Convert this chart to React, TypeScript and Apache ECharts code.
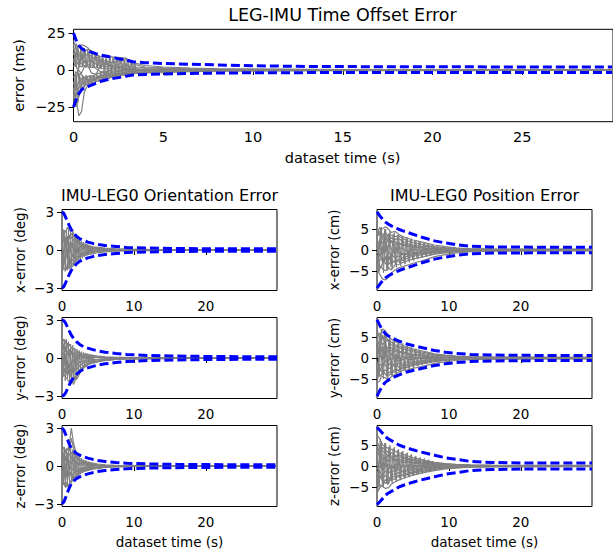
import React, { useEffect, useRef } from "react";
import * as echarts from "echarts";

// ---------- time grids ----------
const T_MS = [0, 0.15, 0.3, 0.45, 0.6, 0.8, 1.0, 1.25, 1.5, 1.8, 2.1, 2.5, 2.9, 3.3, 4, 5, 6.5, 8, 10, 13, 17, 22, 26, 30];
const T_DEG = [0, 0.25, 0.5, 0.75, 1, 1.3, 1.6, 2, 2.5, 3, 3.6, 4.3, 5, 6, 7.5, 9, 12, 16, 21, 26, 29.9];
const T_CM = [0, 0.4, 0.8, 1.2, 1.6, 2, 2.5, 3, 3.6, 4.3, 5, 6, 7, 8, 9.5, 11, 13, 16, 20, 25, 29.9];
// denser early grids for the noisy (jagged) runs
const T_MS_Z = [0, 0.1, 0.2, 0.3, 0.4, 0.5, 0.6, 0.7, 0.8, 0.9, 1.0, 1.1, 1.2, 1.3, 1.4, 1.5, 1.6, 1.7, 1.8, 1.9, 2.0, 2.1, 2.2, 2.3, 2.4, 2.5, 2.6, 2.7, 2.8, 2.9, 3.0, 3.1, 3.2, 3.3, 3.4, 3.5];
const T_MS_Z2 = [0.05, 0.15, 0.25, 0.35, 0.45, 0.55, 0.65, 0.75, 0.85, 0.95, 1.05, 1.15, 1.25, 1.35, 1.45, 1.55, 1.65, 1.75, 1.85, 1.95, 2.05, 2.15, 2.25, 2.35, 2.45, 2.55, 2.65, 2.75, 2.85, 2.95, 3.05, 3.15, 3.25, 3.35, 3.45];
const T_DEG_Z = [0, 0.15, 0.3, 0.45, 0.6, 0.75, 0.9, 1.05, 1.2, 1.35, 1.5, 1.65, 1.8, 1.95, 2.1, 2.25, 2.4, 2.55, 2.7, 2.85, 3.0, 3.15, 3.3, 3.45, 3.6, 3.75, 3.9, 4.05, 4.2, 4.35, 4.5];
const T_CM_Z = [0, 0.3, 0.6, 0.9, 1.2, 1.5, 1.8, 2.1, 2.4, 2.7, 3.0, 3.3, 3.6, 3.9, 4.2, 4.5, 4.8, 5.1, 5.4, 5.7, 6.0, 6.3, 6.6, 6.9, 7.2, 7.5, 7.8, 8.1, 8.4, 8.7, 9.0];
const T_CM_Z2 = [0.15, 0.45, 0.75, 1.05, 1.35, 1.65, 1.95, 2.25, 2.55, 2.85, 3.15, 3.45, 3.75, 4.05, 4.35, 4.65, 4.95, 5.25, 5.55, 5.85, 6.15, 6.45, 6.75, 7.05, 7.35, 7.65, 7.95, 8.25, 8.55, 8.85, 9.15];

// ---------- tick labels ----------
const X_TICKS_TOP = [0, 5, 10, 15, 20, 25];
const X_TICKS_SUB = [0, 10, 20];
const Y_TICKS_MS = [-25, 0, 25];
const Y_TICKS_DEG = [-3, 0, 3];
const Y_TICKS_CM = [-5, 0, 5];

// ---------- titles / labels ----------
const TITLE_TOP = "LEG-IMU Time Offset Error";
const TITLE_ORI = "IMU-LEG0 Orientation Error";
const TITLE_POS = "IMU-LEG0 Position Error";
const XLABEL = "dataset time (s)";
const YLABEL_MS = "error (ms)";
const YLABELS_DEG = ["x-error (deg)", "y-error (deg)", "z-error (deg)"];
const YLABELS_CM = ["x-error (cm)", "y-error (cm)", "z-error (cm)"];

// ---------- time offset (ms) ----------
const MS_UPPER = [25, 20, 16.5, 14.5, 13.3, 12.6, 12, 11, 10.1, 9.4, 8.6, 7.6, 6.9, 5.6, 4.9, 4.4, 3.9, 3.4, 2.8, 2.4, 2.2, 2.1, 2, 2];
const MS_LOWER = [-25, -20, -16, -13.5, -12, -11.2, -10.3, -9, -7.8, -6.8, -6, -5.2, -4.3, -3.4, -3, -2.7, -2.4, -2.1, -1.9, -1.8, -1.8, -1.7, -1.7, -1.7];
const MS_RUNS = [
  [5, 12, 16, 17, 16.5, 15, 12, 10, 9, 8.5, 8.8, 8.5, 8, 5, 3, 2, 1.2, 0.8, 0.5, 0.4, 0.3, 0.3, 0.2, 0.2],
  [-8, -20, -31, -28, -15, -10, -8, -6, -5, -4, -4.5, -3, -2.5, -2, -1.5, -1.2, -0.8, -0.6, -0.5, -0.4, -0.3, -0.2, -0.2, -0.2],
  [15, 10, 6, 4, 5, 6, 5.5, 4, 3, 2, 2.5, 1.5, 1, 0.8, 0.5, 0.8, 0.5, 0.3, 0.2, 0.1, 0.1, 0.1, 0.05, 0.05],
  [-15, -12, -8, -6, -5, -4.5, -4, -5, -4, -3, -2, -2.5, -1.5, -1, -0.8, -0.5, -0.3, -0.3, -0.2, -0.2, -0.1, -0.1, -0.1, -0.1],
  [20, 14, 10, 8, 9, 11, 9, 7, 6, 4, 3, 2, 3, 2, 1.5, 1, 0.6, 0.5, 0.4, 0.3, 0.2, 0.2, 0.2, 0.2],
  [-22, -16, -12, -10, -9, -8, -7, -6, -5, -6, -5, -4, -3, -2, -1.5, -1, -0.8, -0.6, -0.4, -0.3, -0.3, -0.2, -0.2, -0.2],
  [2, 6, 3, 2, 3, 2, 1.5, 2, 1, 0.5, 1, 0.5, 0.2, 0.5, 0.3, 0.1, 0, 0.1, 0, 0, 0, 0, 0, 0],
  [-5, -2, 0, -3, -6, -7, -5, -3, -2, -1, -0.5, -1, -0.5, -0.2, 0, -0.2, 0, 0, 0, 0, 0, 0, 0, 0],
  [10, 18, 12, 9, 12, 14, 13, 9, 7, 6, 5, 6, 7, 4, 2, 1.5, 1, 0.6, 0.4, 0.3, 0.3, 0.3, 0.3, 0.3],
  [-12, -25, -18, -12, -11, -9, -9, -8, -6.5, -5, -3.5, -3, -3, -2.5, -2, -1.8, -1.2, -0.8, -0.6, -0.5, -0.4, -0.4, -0.3, -0.3],
  [8, 3, -4, -2, 2, 4, 3, 1, -1, -2, 0.5, 2, 1.5, 1, -0.5, 0.3, 0.2, -0.1, 0.1, 0, 0, 0, 0, 0],
  [-18, -8, 4, 8, 6, 3, -2, -3, 3, 5, 2, -1, 0, -1, 0.8, -0.5, 0.3, 0.2, -0.2, 0.1, 0, 0, 0, 0],
];
const MS_NOISY_POS = [18, 2, 16, 1, 14, 2, 15, 1.5, 14, 2, 12, 1.5, 11, 2, 10, 1, 9, 0, 8.5, 0, 8, 0, 8.5, 0, 8, 0, 8.5, 0, 8, 0, 7, 0, 5.5, 0, 4.5, 0];
const MS_NOISY_NEG = [-20, -1, -18, -2, -14, -3.5, -12, -3.5, -11, -3.5, -10, -3.5, -9, -3.5, -8, -2, -7, 0, -6.5, 0, -6, 0, -5.5, 0, -5, 0, -4.5, 0, -4, 0, -3.5, 0, -3, 0, -2.5, 0];
const MS_NOISY_POS2 = [14, 3, 12, 2.5, 16, 3, 13, 2.5, 12, 2, 11, 2, 10, 1.5, 9, 1, 8, 0.5, 7.5, 0.5, 8, 0.5, 7, 0.5, 7.5, 0.5, 7, 0.5, 6.5, 0.5, 5, 0.5, 4, 0.5, 3.5];
const MS_NOISY_NEG2 = [-16, -3, -22, -4, -12, -4, -10, -4, -9.5, -4, -9, -4, -8, -3.5, -7, -1.5, -6, -0.5, -5.5, -0.5, -5, -0.5, -4.8, -0.5, -4.5, -0.5, -4, -0.5, -3.8, -0.5, -3.2, -0.5, -2.8, -0.5, -2.2];

// ---------- orientation (deg) ----------
const XDEG_BOUND = [3, 2.9, 2.6, 2.25, 1.95, 1.6, 1.35, 1.1, 0.88, 0.75, 0.62, 0.52, 0.44, 0.36, 0.28, 0.2, 0.15, 0.12, 0.1, 0.1, 0.1];
const YDEG_BOUND = [3, 2.95, 2.75, 2.45, 2.15, 1.8, 1.55, 1.3, 1.05, 0.9, 0.78, 0.66, 0.56, 0.46, 0.36, 0.28, 0.2, 0.15, 0.12, 0.1, 0.1];
const ZDEG_BOUND = [3, 2.85, 2.5, 2.1, 1.75, 1.4, 1.2, 1.0, 0.85, 0.74, 0.62, 0.52, 0.44, 0.36, 0.28, 0.22, 0.16, 0.13, 0.11, 0.1, 0.1];
const XDEG_RUNS = [
  [1.2, 1.6, 1.4, 1.8, 1.5, 1.7, 1.3, 0.9, 0.6, 0.5, 0.35, 0.25, 0.2, 0.15, 0.1, 0.08, 0.05, 0.04, 0.03, 0.02, 0.02],
  [-1.1, -1.4, -1.6, -1.3, -1.5, -1.2, -1.0, -0.8, -0.6, -0.45, -0.35, -0.3, -0.2, -0.15, -0.1, -0.08, -0.05, -0.04, -0.03, -0.02, -0.02],
  [0.4, 0.9, 0.3, -0.5, 0.2, 0.6, 0.1, -0.3, 0.2, 0.1, -0.1, 0.05, 0.1, 0.02, -0.03, 0.02, 0.01, 0, 0, 0, 0],
  [-0.6, -0.2, 0.7, 1.1, 0.5, -0.3, -0.6, -0.2, 0.3, 0.25, 0.1, -0.1, -0.05, 0.05, 0.02, -0.02, 0, 0, 0, 0, 0],
  [1.5, 0.8, 1.0, 0.4, 1.2, 1.0, 0.8, 0.6, 0.4, 0.3, 0.3, 0.2, 0.15, 0.1, 0.06, 0.05, 0.03, 0.02, 0.02, 0.01, 0.01],
  [-1.4, -0.9, -1.1, -1.6, -0.8, -0.9, -0.7, -0.6, -0.4, -0.35, -0.2, -0.2, -0.12, -0.1, -0.06, -0.04, -0.03, -0.02, -0.01, -0.01, -0.01],
  [0.8, 1.3, 0.6, 0.9, -0.2, 0.3, 0.5, 0.4, -0.1, 0.2, 0.15, 0.1, 0.05, -0.02, 0.03, 0.01, 0, 0, 0, 0, 0],
  [-0.3, -1.0, -0.4, 0.2, -1.1, -0.6, -0.2, 0.1, -0.3, -0.15, -0.2, -0.05, -0.08, -0.03, 0.01, -0.01, 0, 0, 0, 0, 0],
  [1.8, 1.1, 0.2, 0.6, 0.9, 1.3, 1.1, 0.7, 0.5, 0.4, 0.2, 0.15, 0.12, 0.08, 0.05, 0.03, 0.02, 0.02, 0.01, 0.01, 0.01],
  [-1.7, -1.2, -0.2, -0.7, -0.4, -1.4, -1.2, -0.5, -0.5, -0.3, -0.25, -0.15, -0.1, -0.06, -0.04, -0.02, -0.02, -0.01, -0.01, -0.01, -0.01],
];
const XDEG_NOISY = [1.8, -1.6, 1.5, -1.7, 1.6, -1.4, 1.7, -1.5, 1.5, -1.3, 1.6, -1.2, 1.2, -1.0, 1.0, -0.9, 0.8, -0.8, 0.7, -0.65, 0.6, -0.55, 0.5, -0.45, 0.45, -0.4, 0.35, -0.3, 0.3, -0.25, 0.2];
const YDEG_RUNS = [
  [1.3, 1.5, 1.2, 0.9, 1.1, 0.8, 0.7, 0.5, 0.4, 0.3, 0.25, 0.2, 0.15, 0.1, 0.06, 0.05, 0.03, 0.02, 0.02, 0.01, 0.01],
  [-1.0, -1.3, -1.5, -1.7, -1.9, -2.0, -1.8, -1.3, -0.9, -0.6, -0.45, -0.3, -0.25, -0.15, -0.1, -0.07, -0.05, -0.03, -0.02, -0.02, -0.02],
  [0.5, 0.9, 1.4, 1.0, 0.6, 0.3, 0.4, 0.2, 0.1, 0.15, 0.1, 0.05, 0.04, 0.03, 0.02, 0.01, 0, 0, 0, 0, 0],
  [-0.7, -1.2, -0.8, -1.4, -1.0, -1.6, -2.1, -1.5, -1.0, -0.7, -0.5, -0.35, -0.25, -0.18, -0.12, -0.08, -0.05, -0.03, -0.02, -0.02, -0.02],
  [0.2, 0.4, -0.3, 0.5, 0.3, -0.4, -0.2, 0.1, -0.1, 0.05, -0.05, 0.03, 0.02, 0.01, 0, 0, 0, 0, 0, 0, 0],
  [-0.2, -0.6, 0.3, -0.9, -0.5, -1.1, -0.8, -0.9, -0.6, -0.4, -0.3, -0.2, -0.15, -0.1, -0.06, -0.04, -0.03, -0.02, -0.01, -0.01, -0.01],
  [1.0, 0.6, 0.9, 0.3, 0.7, 0.5, 0.3, 0.4, 0.2, 0.15, 0.15, 0.1, 0.08, 0.05, 0.03, 0.02, 0.01, 0.01, 0.01, 0.01, 0.01],
  [-1.2, -0.8, -1.0, -0.5, -1.3, -0.9, -1.2, -0.6, -0.3, -0.25, -0.2, -0.12, -0.1, -0.06, -0.04, -0.03, -0.02, -0.01, -0.01, -0.01, -0.01],
  [0.8, 1.1, 0.5, 1.2, 0.2, 0.6, 0.1, -0.2, 0.3, 0.1, 0.05, 0.08, 0.05, 0.02, 0.02, 0.01, 0, 0, 0, 0, 0],
  [-0.5, 0.1, -0.6, -0.2, -0.8, -0.3, -1.4, -1.7, -1.2, -0.8, -0.55, -0.4, -0.3, -0.2, -0.12, -0.08, -0.05, -0.03, -0.02, -0.02, -0.02],
];
const YDEG_NOISY = [1.5, -1.5, 1.4, -1.8, 1.5, -1.6, 1.3, -1.9, 1.1, -1.8, 1.0, -1.7, 0.8, -1.4, 0.7, -1.1, 0.6, -0.9, 0.5, -0.75, 0.45, -0.6, 0.4, -0.5, 0.35, -0.4, 0.3, -0.35, 0.25, -0.3, 0.2];
const ZDEG_RUNS = [
  [1.2, 1.5, 1.1, 1.3, 1.6, 3.0, 1.8, 1.0, 0.6, 0.4, 0.3, 0.22, 0.16, 0.1, 0.06, 0.04, 0.03, 0.02, 0.01, 0.01, 0.01],
  [-1.0, -1.4, -1.7, -1.5, -1.8, -1.3, -1.0, -0.8, -0.6, -0.45, -0.35, -0.25, -0.2, -0.12, -0.08, -0.05, -0.03, -0.02, -0.02, -0.01, -0.01],
  [0.6, 1.0, 0.4, 0.9, 1.2, 2.2, 1.4, 0.7, 0.45, 0.3, 0.2, 0.15, 0.1, 0.06, 0.04, 0.03, 0.02, 0.01, 0.01, 0.01, 0.01],
  [-0.6, -0.2, -0.9, -0.4, -0.7, -0.5, -1.2, -0.9, -0.5, -0.3, -0.25, -0.15, -0.1, -0.07, -0.04, -0.03, -0.02, -0.01, -0.01, -0.01, -0.01],
  [0.2, 0.7, 1.3, 0.5, 0.9, 1.1, 0.6, 0.3, 0.2, 0.25, 0.1, 0.08, 0.05, 0.03, 0.02, 0.01, 0, 0, 0, 0, 0],
  [-1.4, -0.9, -0.3, -1.1, -0.4, -0.8, -0.6, -0.4, -0.35, -0.2, -0.15, -0.1, -0.08, -0.05, -0.03, -0.02, -0.01, -0.01, 0, 0, 0],
  [1.5, 0.3, 0.8, 0.1, 0.4, 0.2, 0.5, 0.2, 0.1, 0.1, 0.05, 0.04, 0.03, 0.02, 0.01, 0, 0, 0, 0, 0, 0],
  [-0.3, -1.1, 0.2, -0.8, 0.1, -0.3, -0.2, -0.5, -0.2, -0.15, -0.1, -0.06, -0.05, -0.03, -0.02, -0.01, 0, 0, 0, 0, 0],
  [0.9, 0.5, -0.5, 0.6, -0.3, 0.7, 1.0, 0.6, 0.35, 0.2, 0.18, 0.12, 0.08, 0.05, 0.03, 0.02, 0.01, 0.01, 0.01, 0.01, 0.01],
  [-0.9, -1.5, -1.2, -1.6, -1.4, -1.1, -0.9, -0.7, -0.4, -0.35, -0.2, -0.18, -0.12, -0.08, -0.05, -0.03, -0.02, -0.01, -0.01, -0.01, -0.01],
];
const ZDEG_NOISY = [1.6, -1.4, 1.5, -1.6, 1.4, -1.5, 1.6, -1.4, 1.5, -1.2, 1.3, -1.0, 1.0, -0.9, 0.8, -0.75, 0.7, -0.65, 0.6, -0.55, 0.5, -0.45, 0.45, -0.4, 0.35, -0.35, 0.3, -0.25, 0.25, -0.2, 0.2];

// ---------- position (cm) ----------
const XCM_BOUND = [9.2, 8.2, 7.4, 6.7, 6.2, 5.8, 5.4, 5.0, 4.6, 4.2, 3.8, 3.2, 2.7, 2.2, 1.7, 1.3, 0.9, 0.75, 0.7, 0.65, 0.65];
const YCM_BOUND = [9.2, 7.8, 6.6, 5.8, 5.3, 4.9, 4.5, 4.1, 3.7, 3.3, 3.0, 2.6, 2.2, 1.8, 1.4, 1.1, 0.85, 0.7, 0.65, 0.6, 0.6];
const ZCM_BOUND = [9.3, 8.6, 7.8, 7.0, 6.5, 6.1, 5.6, 5.1, 4.7, 4.3, 3.9, 3.4, 3.0, 2.6, 2.0, 1.6, 1.1, 0.85, 0.75, 0.7, 0.7];
const XCM_RUNS = [
  [3, 4.5, 5.2, 5.6, 5, 4.2, 4.5, 3.8, 3.2, 2.8, 2.4, 2, 1.6, 1.2, 0.8, 0.5, 0.3, 0.25, 0.2, 0.2, 0.2],
  [-4, -6, -7, -7.2, -6.5, -5.5, -4.8, -4.3, -4, -3.6, -3.2, -2.7, -2.2, -1.6, -1.1, -0.7, -0.4, -0.3, -0.25, -0.2, -0.2],
  [1, 2.5, 1.5, 3.2, 2.2, 3, 2.5, 2.8, 2, 1.5, 1.2, 0.9, 0.8, 0.6, 0.4, 0.3, 0.2, 0.15, 0.1, 0.1, 0.1],
  [-2, -1, -2.8, -1.5, -3.5, -2.6, -3, -2.2, -2.5, -2, -1.5, -1.2, -0.9, -0.7, -0.5, -0.3, -0.2, -0.15, -0.1, -0.1, -0.1],
  [5, 3.5, 4, 2.5, 3.8, 1.8, 2, 1.2, 1.5, 0.8, 0.9, 0.6, 0.4, 0.3, 0.2, 0.15, 0.1, 0.05, 0.05, 0.05, 0.05],
  [-5, -3.8, -4.5, -5, -4.2, -4.8, -3.6, -3.5, -3, -2.6, -2.2, -1.8, -1.4, -1, -0.7, -0.45, -0.3, -0.2, -0.15, -0.15, -0.15],
  [0.5, -1.5, 0.8, -0.5, 1.2, 0.4, -0.8, 0.6, 0.3, -0.4, 0.2, -0.1, 0.1, 0.05, 0.02, 0, 0, 0, 0, 0, 0],
  [2, 0.5, -1, 1.5, -0.5, -1.4, 0.7, -0.6, -1.1, -0.8, -0.6, -0.5, -0.3, -0.2, -0.1, -0.08, -0.05, 0, 0, 0, 0],
  [-1, 1.8, 3, 4.2, 3.2, 3.6, 3.2, 3.4, 2.7, 2.2, 1.8, 1.4, 1.1, 0.8, 0.55, 0.35, 0.25, 0.2, 0.15, 0.15, 0.15],
  [-3, -2.5, -1.8, -3.4, -2.2, -1.2, -1.8, -1.5, -0.8, -1.2, -0.9, -0.7, -0.6, -0.4, -0.3, -0.2, -0.15, -0.1, -0.1, -0.1, -0.1],
  [4, 5.5, 2.8, 1.2, 2.6, 2.2, 1.1, 1.8, 1.1, 1.3, 0.6, 0.5, 0.3, 0.35, 0.2, 0.1, 0.08, 0.05, 0.05, 0.05, 0.05],
  [-6, -4.5, -3.2, -2.2, -1.5, -3.3, -2.4, -2.8, -1.8, -1.5, -1.2, -0.9, -0.8, -0.5, -0.35, -0.25, -0.15, -0.1, -0.1, -0.1, -0.1],
];
const XCM_NOISY = [5, -5, 5.5, -5.5, 5, -5, 4.5, -4.5, 4.2, -4.2, 3.8, -3.8, 3.4, -3.4, 3, -3, 2.7, -2.6, 2.4, -2.2, 2, -1.9, 1.7, -1.6, 1.4, -1.3, 1.1, -1, 0.9, -0.8, 0.7];
const XCM_NOISY2 = [-4, 4.5, -3.5, 5, -4.5, 4, -4, 3.8, -3.5, 3.6, -3.2, 3.2, -3, 2.8, -2.6, 2.5, -2.3, 2.2, -2, 1.9, -1.7, 1.6, -1.4, 1.3, -1.2, 1.1, -0.9, 0.8, -0.7, 0.6, -0.5];
const YCM_RUNS = [
  [2, 5, 7, 6.5, 5.2, 4.5, 4, 3.5, 3, 2.6, 2.2, 1.8, 1.4, 1.0, 0.7, 0.45, 0.3, 0.2, 0.2, 0.15, 0.15],
  [-3, -4, -4.6, -4.8, -5.2, -4.4, -4, -3.4, -3, -2.8, -2.5, -2.1, -1.7, -1.3, -0.9, -0.6, -0.4, -0.3, -0.25, -0.2, -0.2],
  [5, 6, 4.5, 5.5, 3.8, 3.2, 2.8, 2.5, 2.2, 1.8, 1.5, 1.2, 0.9, 0.7, 0.5, 0.35, 0.2, 0.15, 0.1, 0.1, 0.1],
  [-1, -2.5, -3.5, -2.8, -3.6, -3.2, -3.4, -2.8, -2.5, -2.2, -1.8, -1.5, -1.2, -0.9, -0.6, -0.4, -0.25, -0.2, -0.15, -0.15, -0.15],
  [0.5, 2.2, 1.5, 3.2, 2, 2.5, 1.6, 1.8, 1.1, 1.2, 0.8, 0.6, 0.5, 0.3, 0.2, 0.15, 0.1, 0.05, 0.05, 0.05, 0.05],
  [-4, -1.5, -2, -0.5, -1.8, -1, -2.2, -1.2, -1.5, -0.9, -1, -0.7, -0.5, -0.4, -0.3, -0.2, -0.1, -0.1, -0.1, -0.05, -0.05],
  [3, 0.8, -0.5, 1.4, 0.3, -0.6, 0.7, 0.2, -0.4, 0.3, 0.1, -0.1, 0.1, 0.05, 0, 0, 0, 0, 0, 0, 0],
  [-2, 1, 2.8, 0.6, -0.8, 1.2, -0.3, -0.8, 0.5, -0.3, -0.4, 0.2, -0.15, -0.1, -0.05, 0, 0, 0, 0, 0, 0],
  [7, 4.2, 3.2, 4, 4.4, 3.8, 3.2, 2.9, 2.6, 2.2, 1.9, 1.5, 1.2, 0.9, 0.6, 0.4, 0.25, 0.2, 0.15, 0.15, 0.15],
  [-5, -3.2, -1.2, -1.8, -2.6, -2.2, -1.4, -2.2, -1.8, -1.5, -1.3, -1.0, -0.8, -0.6, -0.4, -0.3, -0.2, -0.15, -0.1, -0.1, -0.1],
  [1, 3.5, 5.5, 2.5, 1.2, 1.8, 2.4, 1.3, 1.6, 0.8, 0.6, 0.8, 0.4, 0.3, 0.25, 0.1, 0.1, 0.05, 0.05, 0.05, 0.05],
  [-6, -5.5, -3, -4, -4.2, -3.8, -2.6, -3, -2.2, -1.8, -1.6, -1.3, -1, -0.7, -0.5, -0.3, -0.2, -0.15, -0.1, -0.1, -0.1],
];
const YCM_NOISY = [6, -4.5, 7, -5, 6, -5, 5, -4.5, 4.5, -4, 4, -3.5, 3.5, -3, 3, -2.8, 2.6, -2.4, 2.2, -2, 1.9, -1.7, 1.6, -1.4, 1.3, -1.2, 1.1, -1, 0.9, -0.8, 0.7];
const YCM_NOISY2 = [-5, 5.5, -4, 6, -4.5, 4.5, -4, 4, -3.5, 3.4, -3.2, 3, -2.8, 2.6, -2.5, 2.3, -2.1, 2, -1.8, 1.7, -1.5, 1.4, -1.3, 1.2, -1.1, 1, -0.9, 0.8, -0.7, 0.6, -0.5];
const ZCM_RUNS = [
  [7.5, 6.5, 5, 4.6, 4.2, 4, 3.6, 3.2, 2.8, 2.4, 2, 1.6, 1.2, 0.9, 0.6, 0.4, 0.25, 0.2, 0.15, 0.15, 0.15],
  [-4, -4.5, -5, -5.4, -5.2, -4.4, -3.8, -3.4, -3, -2.6, -2.2, -1.8, -1.4, -1.1, -0.7, -0.5, -0.3, -0.2, -0.2, -0.15, -0.15],
  [3, 4.8, 3.6, 3, 2.4, 3.2, 2.6, 2.2, 2, 1.6, 1.3, 1, 0.8, 0.6, 0.4, 0.25, 0.15, 0.1, 0.1, 0.1, 0.1],
  [-2, -1.2, -3, -2.2, -3.6, -2.8, -2.4, -2.6, -2, -1.7, -1.4, -1.1, -0.9, -0.6, -0.4, -0.3, -0.2, -0.1, -0.1, -0.1, -0.1],
  [5, 2.8, 1.5, 2.2, 1, 1.4, 1.8, 1.2, 0.8, 1.0, 0.7, 0.5, 0.4, 0.3, 0.2, 0.1, 0.05, 0.05, 0.05, 0.05, 0.05],
  [-5.5, -3, -2, -1.2, -1.8, -1, -1.4, -0.8, -1.2, -0.8, -0.6, -0.5, -0.35, -0.25, -0.15, -0.1, -0.05, -0.05, -0.05, -0.05, -0.05],
  [1, -0.5, 0.8, -0.2, 0.5, -0.6, 0.3, 0.5, -0.3, 0.2, 0.1, -0.1, 0.05, 0.05, 0, 0, 0, 0, 0, 0, 0],
  [-1, 1.5, -1.2, 0.8, -0.8, 0.2, -0.9, -0.3, 0.3, -0.4, -0.2, 0.1, -0.1, -0.05, 0, 0, 0, 0, 0, 0, 0],
  [2, 3.8, 4.5, 3.8, 3.2, 2.4, 2.2, 2.6, 2.3, 1.9, 1.6, 1.3, 1, 0.7, 0.5, 0.3, 0.2, 0.15, 0.1, 0.1, 0.1],
  [-3, -2.2, -3.8, -4.2, -2.6, -3.4, -3, -2.2, -2.4, -2, -1.7, -1.4, -1.1, -0.8, -0.5, -0.35, -0.2, -0.15, -0.1, -0.1, -0.1],
  [6, 4.2, 2.5, 1.5, 2.8, 2, 1.2, 1.6, 1.4, 1.2, 0.9, 0.7, 0.6, 0.4, 0.3, 0.2, 0.1, 0.08, 0.05, 0.05, 0.05],
  [-6.5, -5.2, -4.4, -3.2, -4.4, -1.8, -2, -1.6, -1.4, -1.2, -1, -0.8, -0.6, -0.45, -0.3, -0.2, -0.1, -0.08, -0.05, -0.05, -0.05],
];
const ZCM_NOISY = [7, -5, 6, -5, 5.5, -4.5, 5, -4, 4.5, -3.8, 4, -3.4, 3.6, -3, 3.2, -2.7, 2.8, -2.4, 2.4, -2.1, 2.1, -1.8, 1.8, -1.5, 1.5, -1.3, 1.2, -1.1, 1, -0.9, 0.8];
const ZCM_NOISY2 = [-6, 6.5, -4.5, 5.5, -4.2, 4.6, -3.6, 4.2, -3.4, 3.8, -3, 3.4, -2.7, 3, -2.4, 2.6, -2.1, 2.2, -1.9, 1.9, -1.6, 1.6, -1.4, 1.4, -1.2, 1.1, -1, 0.9, -0.8, 0.7, -0.6];

const FONT = "'DejaVu Sans', 'Liberation Sans', sans-serif";
const GRAY = "#808080";
const BLUE = "#0000ff";

const fmt = (v: number) => (v < 0 ? "\u2212" + Math.abs(v) : String(v));
const neg = (a: number[]) => a.map((v) => -v);

export default function App() {
  const ref = useRef<HTMLDivElement>(null);

  useEffect(() => {
    if (!ref.current) return;
    const chart = echarts.init(ref.current, null, { renderer: "svg" });

    const LX = 62, RX = 377, SW = 215, H = 81;
    const ROWS = [209.5, 317.5, 425.5];
    const panels: any[] = [
      {
        left: 73.5, top: 29.3, width: 541, height: 92.4, xMax: 30.05, xTicks: X_TICKS_TOP,
        yMin: -35, yMax: 27.5, yTicks: Y_TICKS_MS, T: T_MS, runs: MS_RUNS, up: MS_UPPER, lo: MS_LOWER,
        noisy: [[T_MS_Z, MS_NOISY_POS], [T_MS_Z, MS_NOISY_NEG], [T_MS_Z2, MS_NOISY_POS2], [T_MS_Z2, MS_NOISY_NEG2]],
        fs: 14.5,
      },
    ];
    const degSets = [[XDEG_RUNS, XDEG_BOUND, XDEG_NOISY], [YDEG_RUNS, YDEG_BOUND, YDEG_NOISY], [ZDEG_RUNS, ZDEG_BOUND, ZDEG_NOISY]];
    const cmSets = [
      [XCM_RUNS, XCM_BOUND, XCM_NOISY, XCM_NOISY2],
      [YCM_RUNS, YCM_BOUND, YCM_NOISY, YCM_NOISY2],
      [ZCM_RUNS, ZCM_BOUND, ZCM_NOISY, ZCM_NOISY2],
    ];
    degSets.forEach(([runs, b, nz]: any, i) => {
      panels.push({
        left: LX, top: ROWS[i], width: SW, height: H, xMax: 29.9, xTicks: X_TICKS_SUB,
        yMin: -3.2, yMax: 3.2, yTicks: Y_TICKS_DEG, T: T_DEG, runs, up: b, lo: neg(b),
        noisy: [[T_DEG_Z, nz]], fs: 13.5,
      });
    });
    cmSets.forEach(([runs, b, nz, nz2]: any, i) => {
      panels.push({
        left: RX, top: ROWS[i], width: SW, height: H, xMax: 29.9, xTicks: X_TICKS_SUB,
        yMin: -9.75, yMax: 9.75, yTicks: Y_TICKS_CM, T: T_CM, runs, up: b, lo: neg(b),
        noisy: [[T_CM_Z, nz], [T_CM_Z2, nz2]], fs: 13.5,
      });
    });

    const grid = panels.map((p) => ({
      left: p.left, top: p.top, width: p.width, height: p.height,
      show: true, borderColor: "#000", borderWidth: 1, backgroundColor: "transparent",
    }));
    const mkAxis = (p: any, i: number, isX: boolean) => ({
      type: "value", gridIndex: i,
      min: isX ? 0 : p.yMin, max: isX ? p.xMax : p.yMax,
      axisLine: { show: false },
      axisTick: { show: true, length: 5, lineStyle: { color: "#000", width: 1 }, customValues: isX ? p.xTicks : p.yTicks },
      axisLabel: {
        color: "#000", fontSize: p.fs, fontFamily: FONT, margin: 8,
        customValues: isX ? p.xTicks : p.yTicks, formatter: fmt,
      },
      splitLine: { show: false },
    });
    const xAxis = panels.map((p, i) => mkAxis(p, i, true));
    const yAxis = panels.map((p, i) => mkAxis(p, i, false));

    const series: any[] = [];
    panels.forEach((p, g) => {
      const toData = (T: number[], arr: number[]) =>
        T.map((t: number, k: number) => [t, arr[k]]).filter((d: any) => d[1] !== undefined);
      const gray = (T: number[], r: number[], w: number) => ({
        type: "line", xAxisIndex: g, yAxisIndex: g, data: toData(T, r),
        symbol: "none", silent: true, z: 2,
        lineStyle: { color: GRAY, width: w },
      });
      p.noisy.forEach(([T, r]: any) => series.push(gray(T, r, 1)));
      p.runs.forEach((r: number[]) => series.push(gray(p.T, r, 1.2)));
      [p.up, p.lo].forEach((b: number[]) => {
        series.push({
          type: "line", xAxisIndex: g, yAxisIndex: g, data: toData(p.T, b),
          symbol: "none", silent: true, z: 3,
          lineStyle: { color: BLUE, width: 3, type: [9, 4] },
        });
      });
    });

    const txt = (text: string, x: number, y: number, size: number, rot = 0) => ({
      type: "text", x, y, rotation: rot, silent: true,
      style: { text, fontSize: size, fontFamily: FONT, fill: "#000", align: "center", verticalAlign: "middle" },
    });
    const R = Math.PI / 2;
    const graphic: any[] = [
      txt(TITLE_TOP, 342.5, 15, 17.5),
      txt(TITLE_ORI, 169.5, 195, 16),
      txt(TITLE_POS, 484.5, 195, 16),
      txt(XLABEL, 342.5, 158, 14.5),
      txt(XLABEL, 169.5, 541.5, 13.5),
      txt(XLABEL, 484.5, 541.5, 13.5),
      txt(YLABEL_MS, 19, 75.5, 14.5, R),
    ];
    YLABELS_DEG.forEach((s, i) => graphic.push(txt(s, 20, ROWS[i] + H / 2, 13.5, R)));
    YLABELS_CM.forEach((s, i) => graphic.push(txt(s, 334, ROWS[i] + H / 2, 13.5, R)));

    chart.setOption({
      animation: false,
      backgroundColor: "#fff",
      grid, xAxis, yAxis, series, graphic,
    });
    return () => chart.dispose();
  }, []);

  return (
    <div
      ref={ref}
      style={{ position: "absolute", left: 0, top: 0, width: 613, height: 550, background: "#fff" }}
    />
  );
}
